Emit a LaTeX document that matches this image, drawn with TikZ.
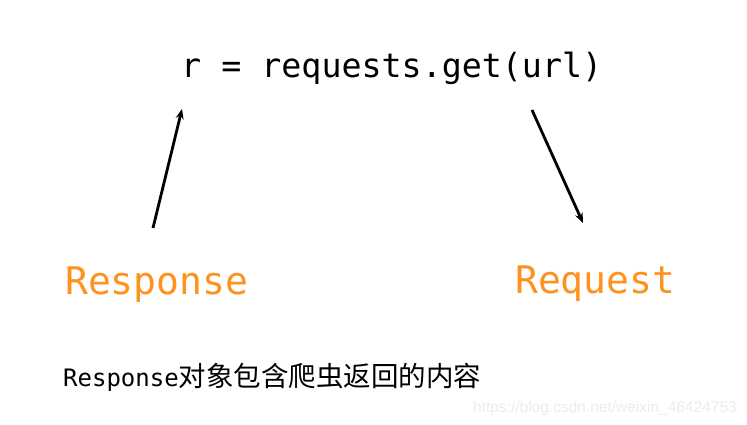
\documentclass[tikz,border=0pt]{standalone}
\usepackage{fontspec}
\usepackage{xcolor}
\usepackage{tikz}
\usetikzlibrary{arrows.meta}
\newfontfamily\codefont{DejaVu Sans Mono}
\newfontfamily\cjk{Noto Sans CJK SC}
\newfontfamily\wmfont{Liberation Sans}
\definecolor{resporange}{RGB}{255,145,30}
\definecolor{wmgray}{RGB}{236,236,236}

\begin{document}
\begin{tikzpicture}[x=1pt,y=-1pt,
   arr/.style={line width=2.8pt,-{Stealth[length=10pt,width=8pt]}},
   big/.style={anchor=base west,inner sep=0pt,text=resporange,font=\codefont\fontsize{38}{44}\selectfont}]
   \useasboundingbox (0,0) rectangle (747,424);
   \node[anchor=base west,inner sep=0pt,font=\codefont\fontsize{33.3}{40}\selectfont] (code) at (181,77) {r = requests.get(url)};
   \node[big] (resp) at (65,294) {Response};
   \node[big] (req) at (515,293) {Request};
   \node[anchor=base west,inner sep=0pt] (note) at (63,386)
     {{\codefont\fontsize{24}{30}\selectfont Response}{\cjk\fontsize{27.5}{30}\selectfont 对象包含爬虫返回的内容}};
   \node[anchor=base east,inner sep=0pt,text=wmgray,font=\wmfont\fontsize{15.5}{18}\selectfont] (wm) at (737,412) {https://blog.csdn.net/weixin\_46424753};

   % arrows
   \coordinate (respup) at (153,228);
   \coordinate (codeleft) at (182,109);
   \coordinate (coderight) at (532,110);
   \coordinate (reqdown) at (583,223);
   \draw[arr] (respup) -- (codeleft);
   \draw[arr] (coderight) -- (reqdown);
\end{tikzpicture}
\end{document}
